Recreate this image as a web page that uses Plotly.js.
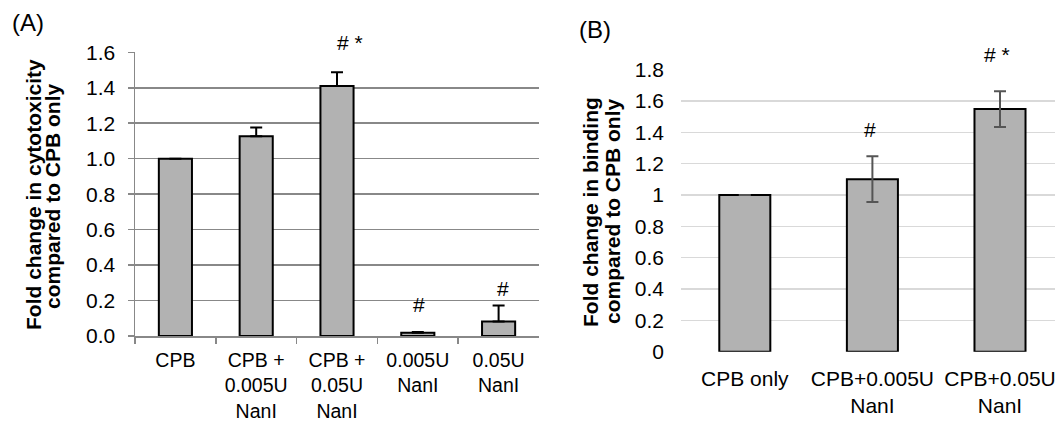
<!DOCTYPE html>
<html>
<head>
<meta charset="utf-8">
<script src="https://cdn.plot.ly/plotly-3.0.1.min.js"></script>
<style>html,body{margin:0;padding:0;background:#fff;}#chart{width:1055px;height:424px;}</style>
</head>
<body>
<div id="chart"></div>
<script>
// Panel A data
const categoriesA = ["CPB", "CPB +<br>0.005U<br>NanI", "CPB +<br>0.05U<br>NanI", "0.005U<br>NanI", "0.05U<br>NanI"];
const valuesA = [1.0, 1.126, 1.41, 0.018, 0.082];
const errorsA = [0, 0.05, 0.077, 0.005, 0.09];
const yTicksA = [0, 0.2, 0.4, 0.6, 0.8, 1.0, 1.2, 1.4, 1.6];
const yTickTextA = ["0.0", "0.2", "0.4", "0.6", "0.8", "1.0", "1.2", "1.4", "1.6"];

// Panel B data
const categoriesB = ["CPB only", "CPB+0.005U<br>NanI", "CPB+0.05U<br>NanI"];
const valuesB = [1.0, 1.10, 1.548];
const errorsBplus = [0, 0.147, 0.114];
const errorsBminus = [0, 0.145, 0.115];
const yTicksB = [0, 0.2, 0.4, 0.6, 0.8, 1, 1.2, 1.4, 1.6, 1.8];
const yTickTextB = ["0", "0.2", "0.4", "0.6", "0.8", "1", "1.2", "1.4", "1.6", "1.8"];

const FONT = "Liberation Sans, Arial, sans-serif";
const W = 1055, H = 424;

const traceA = {
  type: "bar", x: categoriesA, y: valuesA, xaxis: "x", yaxis: "y",
  width: 0.41,
  marker: {color: "#b2b2b2", line: {color: "#000", width: 2}},
  error_y: {type: "data", array: errorsA, arrayminus: errorsA.map(() => 0), symmetric: false,
            color: "#000", thickness: 2, width: 6},
  hoverinfo: "none"
};
const traceB = {
  type: "bar", x: categoriesB, y: valuesB, xaxis: "x2", yaxis: "y2",
  width: 0.4,
  marker: {color: "#b2b2b2", line: {color: "#000", width: 2}},
  error_y: {type: "data", array: errorsBplus, arrayminus: errorsBminus, symmetric: false,
            color: "#555", thickness: 2, width: 6},
  hoverinfo: "none"
};

const txt = (t, x, y, xref, yref, size, extra) => Object.assign({
  text: t, x: x, y: y, xref: xref, yref: yref, showarrow: false,
  xanchor: "center", yanchor: "middle",
  font: {family: FONT, size: size, color: "#000"}
}, extra || {});
const px = (x, y) => [x / W, 1 - y / H];

const layout = {
  width: W, height: H,
  margin: {l: 0, r: 0, t: 0, b: 0},
  paper_bgcolor: "#fff", plot_bgcolor: "rgba(0,0,0,0)",
  showlegend: false,
  font: {family: FONT, size: 20, color: "#000"},
  xaxis: {
    domain: [135 / W, 539 / W], type: "category", range: [-0.5, 4.5],
    showline: true, linecolor: "#888", linewidth: 1.5,
    ticks: "outside", tickson: "boundaries", ticklen: 6, tickcolor: "#888", tickwidth: 1.5,
    showgrid: false, zeroline: false,
    tickfont: {family: FONT, size: 19.5, color: "#000"}, ticklabelstandoff: 6,
    fixedrange: true
  },
  yaxis: {
    domain: [(H - 336) / H, (H - 52.3) / H], range: [0, 1.6],
    tickvals: yTicksA, ticktext: yTickTextA,
    showline: true, linecolor: "#888", linewidth: 1.5,
    ticks: "outside", ticklen: 6, tickcolor: "#888", tickwidth: 1.5,
    showgrid: true, gridcolor: "#888", gridwidth: 1.5, zeroline: false,
    tickfont: {family: FONT, size: 21, color: "#000"}, ticklabelstandoff: 8,
    fixedrange: true
  },
  xaxis2: {
    domain: [681 / W, 1], type: "category", range: [-0.5, 2.431], anchor: "y2",
    showline: false, ticks: "", showgrid: false, zeroline: false,
    tickfont: {family: FONT, size: 21, color: "#000"}, ticklabelstandoff: 12,
    fixedrange: true
  },
  yaxis2: {
    domain: [(H - 351.7) / H, (H - 69.6) / H], range: [0, 1.8], anchor: "x2",
    tickvals: yTicksB, ticktext: yTickTextB,
    showline: false, ticks: "",
    showgrid: true, gridcolor: "#d9d9d9", gridwidth: 1.5, zeroline: false,
    tickfont: {family: FONT, size: 21, color: "#000"}, ticklabelstandoff: 16,
    fixedrange: true
  },
  annotations: [
    txt("(A)", ...px(28, 22), "paper", "paper", 24),
    txt("(B)", ...px(595, 29), "paper", "paper", 24),
    txt("<b>Fold change in cytotoxicity</b>", ...px(33, 195), "paper", "paper", 21, {textangle: -90}),
    txt("<b>compared to CPB only</b>", ...px(52, 196), "paper", "paper", 21, {textangle: -90}),
    txt("<b>Fold change in binding</b>", ...px(590, 212), "paper", "paper", 21, {textangle: -90}),
    txt("<b>compared to CPB only</b>", ...px(612, 211), "paper", "paper", 21, {textangle: -90}),
    txt("# *", ...px(350, 43), "paper", "paper", 21),
    txt("#", 3.02, 0.18, "x", "y", 21),
    txt("#", 4.05, 0.27, "x", "y", 21),
    txt("#", 0.981, 1.415, "x2", "y2", 21),
    txt("# *", ...px(997, 54), "paper", "paper", 21)
  ]
};

Plotly.newPlot("chart", [traceA, traceB], layout, {displayModeBar: false, staticPlot: true});
</script>
</body>
</html>
